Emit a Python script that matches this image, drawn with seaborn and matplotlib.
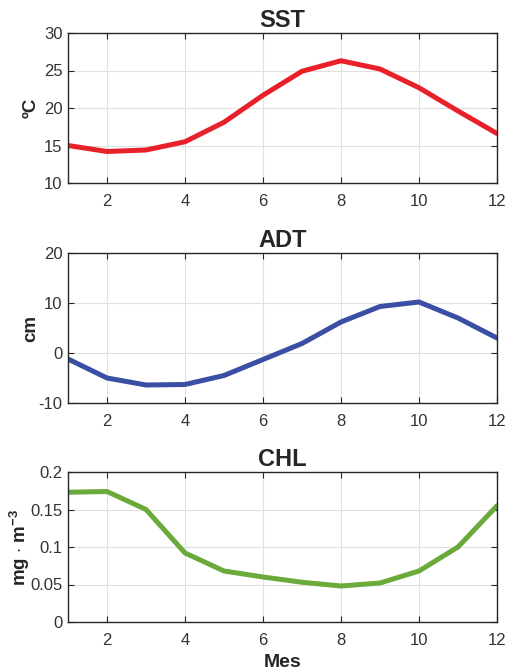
import numpy as np
import pandas as pd
import seaborn as sns
import matplotlib
matplotlib.use("Agg")
import matplotlib.pyplot as plt

months = [1, 2, 3, 4, 5, 6, 7, 8, 9, 10, 11, 12]
sst = [15.0, 14.2, 14.4, 15.5, 18.1, 21.7, 24.9, 26.3, 25.2, 22.7, 19.6, 16.6]
adt = [-1.2, -5.0, -6.4, -6.3, -4.5, -1.3, 1.9, 6.2, 9.3, 10.2, 7.0, 3.0]
chl = [0.173, 0.174, 0.150, 0.092, 0.068, 0.060, 0.053, 0.048, 0.052, 0.068, 0.100, 0.155]

titles = ["SST", "ADT", "CHL"]
ylabels = ["ºC", "cm", r"mg $\cdot$ m$^{-3}$"]
colors = ["#e8202a", "#3a4ea3", "#6aaa3a"]
ylims = [(10, 30), (-10, 20), (0, 0.2)]
yticks = [[10, 15, 20, 25, 30], [-10, 0, 10, 20], [0, 0.05, 0.1, 0.15, 0.2]]
yticklabels = [["10", "15", "20", "25", "30"], ["-10", "0", "10", "20"],
               ["0", "0.05", "0.1", "0.15", "0.2"]]
xticks = [2, 4, 6, 8, 10, 12]

sns.set_style("whitegrid")
plt.rcParams["font.family"] = ["Liberation Sans", "DejaVu Sans"]
plt.rcParams["mathtext.fontset"] = "custom"
plt.rcParams["mathtext.rm"] = "Liberation Sans:bold"
plt.rcParams["mathtext.it"] = "Liberation Sans:bold"
plt.rcParams["mathtext.bf"] = "Liberation Sans:bold"

fig = plt.figure(figsize=(5.05, 6.70), dpi=100)
W, H = 505, 670
tops = [33, 253, 472]
bottoms = [183, 403, 622]
left, right = 68, 497
label_x = [-0.066, -0.066, -0.084]

series = [sst, adt, chl]
for i in range(3):
    ax = fig.add_axes([left / W, 1 - bottoms[i] / H, (right - left) / W,
                       (bottoms[i] - tops[i]) / H])
    df = pd.DataFrame({"Mes": months, "v": series[i]})
    sns.lineplot(data=df, x="Mes", y="v", ax=ax, color=colors[i], linewidth=3.6)
    ax.set_xlim(1, 12)
    ax.set_ylim(*ylims[i])
    ax.set_xticks(xticks)
    ax.set_xticklabels([str(t) for t in xticks])
    ax.set_yticks(yticks[i])
    ax.set_yticklabels(yticklabels[i])
    ax.set_title(titles[i], fontsize=17, fontweight="bold", pad=4)
    ax.set_ylabel(ylabels[i], fontsize=13.5, fontweight="bold")
    ax.yaxis.set_label_coords(label_x[i], 0.5)
    if i == 2:
        ax.set_xlabel("Mes", fontsize=14, fontweight="bold", labelpad=4)
    else:
        ax.set_xlabel("")
    ax.grid(True, color="#e0e0e0", linewidth=0.8)
    for s in ax.spines.values():
        s.set_color("#262626")
        s.set_linewidth(1.0)
    ax.tick_params(axis="both", direction="in", length=4, width=0.8,
                   labelsize=12, colors="#262626", top=True, right=True,
                   bottom=True, left=True, pad=4)
    ax.tick_params(axis="x", pad=8)
    for lab in ax.get_xticklabels() + ax.get_yticklabels():
        lab.set_color("#333333")

fig.savefig("out.png", dpi=100, facecolor="white")
